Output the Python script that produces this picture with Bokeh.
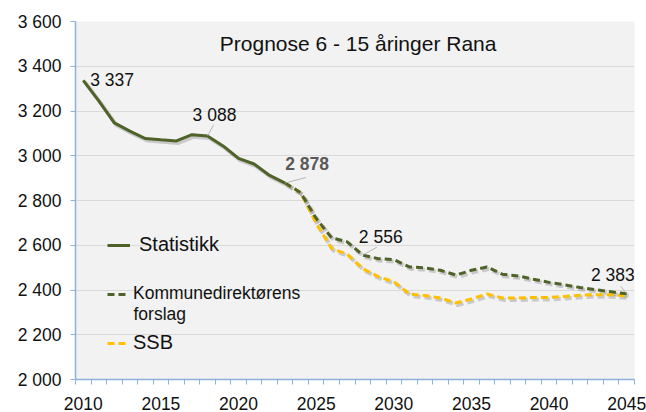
from bokeh.plotting import figure
from bokeh.models import (ColumnDataSource, Range1d, FixedTicker, Label, Legend, LegendItem)
from bokeh.transform import dodge
from bokeh.embed import file_html
from bokeh.resources import INLINE

# ---- data ----
years_stat = list(range(2010, 2024))
statistikk = [3337, 3245, 3147, 3110, 3077, 3071, 3066, 3094, 3088, 3044, 2988, 2963, 2912, 2878]

years_proj = list(range(2023, 2046))
kommunedir = [2878, 2835, 2720, 2633, 2615, 2556, 2540, 2536, 2503, 2499, 2488, 2467, 2488, 2503,
              2470, 2463, 2448, 2434, 2423, 2411, 2401, 2392, 2383]
ssb = [2878, 2835, 2698, 2585, 2560, 2495, 2460, 2437, 2382, 2375, 2364, 2342, 2360, 2382,
       2364, 2364, 2367, 2367, 2371, 2377, 2379, 2379, 2374]

x_tick_years = [2010, 2015, 2020, 2025, 2030, 2035, 2040, 2045]
y_ticks = [2000, 2200, 2400, 2600, 2800, 3000, 3200, 3400, 3600]
y_tick_labels = ["2 000", "2 200", "2 400", "2 600", "2 800", "3 000", "3 200", "3 400", "3 600"]

title_text = "Prognose 6 - 15 åringer Rana"
series_names = ["Statistikk", "Kommunedirektørens", "SSB"]

GREEN = "#4F6228"
YELLOW = "#FFC000"
AXIS_BLUE = "#8DB0DC"
FONT = "Liberation Sans"

src_stat = ColumnDataSource(dict(year=years_stat, val=statistikk))
src_k = ColumnDataSource(dict(year=years_proj, val=kommunedir))
src_s = ColumnDataSource(dict(year=years_proj, val=ssb))

p = figure(width=646, height=412, output_backend="svg", toolbar_location=None,
           x_range=Range1d(2009.5, 2045.5), y_range=Range1d(2000, 3600),
           min_border_left=75, min_border_right=12, min_border_top=21, min_border_bottom=29)
p.background_fill_color = "#F2F2F2"
p.border_fill_color = "white"
p.outline_line_color = None

# axes
p.xaxis.ticker = FixedTicker(ticks=x_tick_years, minor_ticks=[y - 0.5 for y in range(2010, 2047)])
p.yaxis.ticker = FixedTicker(ticks=y_ticks, minor_ticks=[])
p.yaxis.major_label_overrides = {t: l for t, l in zip(y_ticks, y_tick_labels)}
for ax in (p.xaxis[0], p.yaxis[0]):
    ax.axis_line_color = AXIS_BLUE
    ax.axis_line_width = 1.5
    ax.major_tick_line_color = AXIS_BLUE
    ax.minor_tick_line_color = AXIS_BLUE
    ax.major_label_text_font = FONT
    ax.major_label_text_font_size = "17.5px"
    ax.major_label_text_color = "#111111"
p.xaxis.major_tick_out = 0
p.xaxis.major_tick_in = 0
p.xaxis.minor_tick_out = 5
p.xaxis.minor_tick_in = 0
p.xaxis.major_label_standoff = 12
p.yaxis.major_tick_out = 5
p.yaxis.major_tick_in = 0
p.yaxis.minor_tick_out = 0
p.yaxis.minor_tick_in = 0
p.yaxis.major_label_standoff = 9

p.xgrid.grid_line_color = None
p.ygrid.grid_line_color = "#D9D9D9"
p.ygrid.grid_line_width = 1

# shadows
sh = dict(line_color="#7F7F7F", line_alpha=0.35, line_width=4)
p.line(dodge('year', 0.12), dodge('val', -9), source=src_stat, **sh)
p.line(dodge('year', 0.12), dodge('val', -9), source=src_s, line_dash="7 4", **sh)
p.line(dodge('year', 0.12), dodge('val', -9), source=src_k, line_dash="7 4", **sh)

# series
r_s = p.line('year', 'val', source=src_s, line_color=YELLOW, line_width=3, line_dash="7 4")
r_k = p.line('year', 'val', source=src_k, line_color=GREEN, line_width=3, line_dash="7 4")
r_stat = p.line('year', 'val', source=src_stat, line_color=GREEN, line_width=3)

# title inside plot
p.add_layout(Label(x=2027.7, y=3500, text=title_text, text_font=FONT, text_font_size="21px",
                   text_align="center", text_baseline="middle", text_color="#111111"))

# data labels
def yv(years, vals, yr):
    return vals[years.index(yr)]

def fmt(v):
    return f"{v:,}".replace(",", " ")

lab = dict(text_font=FONT, text_font_size="17.5px", text_baseline="middle", text_color="#111111")
lead = dict(line_color="#A6A6A6", line_width=0.8)

v = yv(years_stat, statistikk, 2010)
p.add_layout(Label(x=2010, y=v, text=fmt(v), x_offset=7, y_offset=0, text_align="left", **lab))

v = yv(years_stat, statistikk, 2018)
p.add_layout(Label(x=2018, y=v, text=fmt(v), x_offset=7, y_offset=21, text_align="center", **lab))
p.segment(x0=[2018], y0=[v], x1=[2018 + 0.39], y1=[v + 50], **lead)

v = yv(years_stat, statistikk, 2023)
p.add_layout(Label(x=2023, y=v, text=fmt(v), x_offset=22, y_offset=19,
                   text_align="center", text_font=FONT, text_font_size="17.5px", text_baseline="middle",
                   text_color="#595959", text_font_style="bold"))
p.segment(x0=[2023], y0=[v], x1=[2023 + 1.35], y1=[v + 25], **lead)

v = yv(years_proj, kommunedir, 2028)
p.add_layout(Label(x=2028, y=v, text=fmt(v), x_offset=18, y_offset=18, text_align="center", **lab))
p.segment(x0=[2028], y0=[v], x1=[2028 + 0.9], y1=[v + 35], **lead)

v = yv(years_proj, kommunedir, 2045)
p.add_layout(Label(x=2045, y=v, text=fmt(v), x_offset=8, y_offset=19, text_align="right", **lab))
p.segment(x0=[2045], y0=[v], x1=[2045 - 0.39], y1=[v + 34], **lead)

# legends
common = dict(padding=0, margin=0, border_line_alpha=0, background_fill_alpha=0,
              label_text_font=FONT, label_text_color="#111111", spacing=0)
p.add_layout(Legend(items=[LegendItem(label=series_names[0], renderers=[r_stat])], location=(32, 123),
                    label_text_font_size="20px", glyph_width=23, label_standoff=9, **common))
p.add_layout(Legend(items=[LegendItem(label=series_names[1], renderers=[r_k])], location=(32, 75),
                    label_text_font_size="17.5px", glyph_width=21, label_standoff=5, **common))
p.add_layout(Legend(items=[LegendItem(label=series_names[2], renderers=[r_s])], location=(32, 25),
                    label_text_font_size="20px", glyph_width=21, label_standoff=5, **common))
p.add_layout(Label(x=58, y=66, x_units="screen", y_units="screen", text="forslag", text_font=FONT,
                   text_font_size="17.5px", text_baseline="middle", text_align="left", text_color="#111111"))

open("out.html", "w").write(file_html(p, INLINE))
